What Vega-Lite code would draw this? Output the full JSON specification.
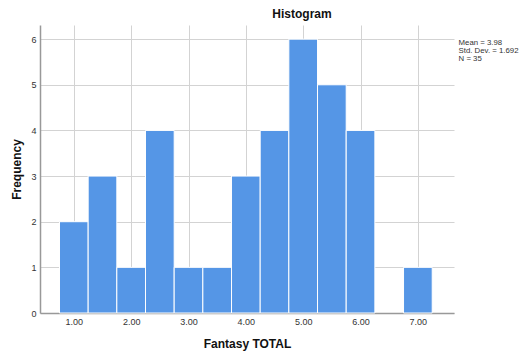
{
  "$schema": "https://vega.github.io/schema/vega-lite/v6.json",
  "width": 414,
  "height": 288,
  "autosize": "none",
  "padding": {"left": 40, "top": 25, "right": 67, "bottom": 41},
  "background": "white",
  "config": {"view": {"stroke": null}, "font": "Liberation Sans"},
  "title": {"text": "Histogram", "fontSize": 12, "fontWeight": "bold", "color": "#111", "anchor": "middle", "dx": 55, "offset": 4, "font": "Liberation Sans"},
  "datasets": {
    "bins": [
      {"bin_start": 0.75, "bin_end": 1.25, "count": 2},
      {"bin_start": 1.25, "bin_end": 1.75, "count": 3},
      {"bin_start": 1.75, "bin_end": 2.25, "count": 1},
      {"bin_start": 2.25, "bin_end": 2.75, "count": 4},
      {"bin_start": 2.75, "bin_end": 3.25, "count": 1},
      {"bin_start": 3.25, "bin_end": 3.75, "count": 1},
      {"bin_start": 3.75, "bin_end": 4.25, "count": 3},
      {"bin_start": 4.25, "bin_end": 4.75, "count": 4},
      {"bin_start": 4.75, "bin_end": 5.25, "count": 6},
      {"bin_start": 5.25, "bin_end": 5.75, "count": 5},
      {"bin_start": 5.75, "bin_end": 6.25, "count": 4},
      {"bin_start": 6.75, "bin_end": 7.25, "count": 1}
    ],
    "stats": [
      {"label": "Mean = 3.98", "x": 7.71, "y": 5.905},
      {"label": "Std. Dev. = 1.692", "x": 7.71, "y": 5.73},
      {"label": "N = 35", "x": 7.71, "y": 5.555}
    ]
  },
  "layer": [
    {
      "data": {"name": "bins"},
      "mark": {"type": "bar", "color": "#5596e6", "stroke": "#ffffff", "strokeWidth": 1},
      "encoding": {
        "x": {
          "field": "bin_start", "type": "quantitative",
          "scale": {"domain": [0.41, 7.63], "nice": false, "zero": false},
          "axis": {
            "title": "Fantasy TOTAL", "titleFontSize": 12, "titleFontWeight": "bold", "titleColor": "#111", "titlePadding": 12,
            "values": [1, 2, 3, 4, 5, 6, 7], "format": ".2f",
            "labelFontSize": 9, "labelColor": "#333", "labelPadding": 4,
            "ticks": false, "domainColor": "#999", "domainWidth": 1.5,
            "grid": true, "gridColor": "#d3d3d3", "gridWidth": 1
          }
        },
        "x2": {"field": "bin_end"},
        "y": {
          "field": "count", "type": "quantitative",
          "scale": {"domain": [0, 6.31], "nice": false},
          "axis": {
            "title": "Frequency", "titleFontSize": 12, "titleFontWeight": "bold", "titleColor": "#111", "titlePadding": 7,
            "values": [0, 1, 2, 3, 4, 5, 6],
            "labelFontSize": 9, "labelColor": "#333", "labelPadding": 4,
            "ticks": false, "domainColor": "#999", "domainWidth": 1.5,
            "grid": true, "gridColor": "#d3d3d3", "gridWidth": 1
          }
        },
        "y2": {"datum": 0}
      }
    },
    {
      "data": {"name": "stats"},
      "mark": {"type": "text", "align": "left", "baseline": "middle", "fontSize": 7.8, "color": "#333", "clip": false},
      "encoding": {
        "x": {"field": "x", "type": "quantitative"},
        "y": {"field": "y", "type": "quantitative"},
        "text": {"field": "label"}
      }
    }
  ]
}
